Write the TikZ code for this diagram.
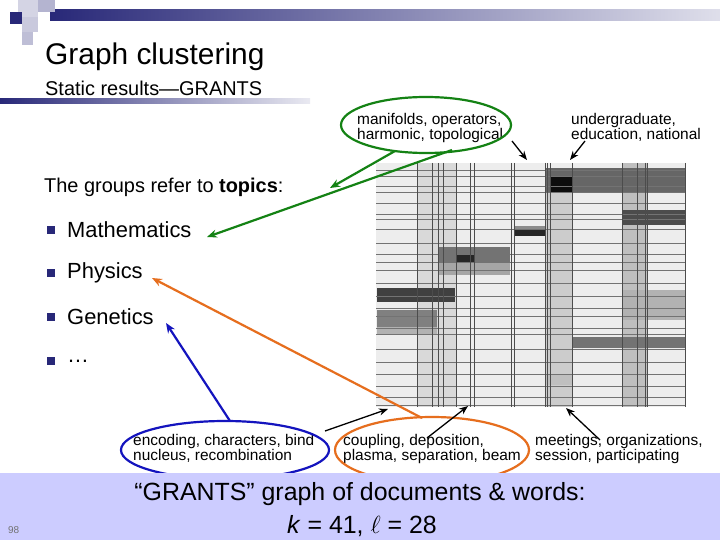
\documentclass[tikz,border=0pt]{standalone}
\usepackage{fontspec}
\setmainfont{Liberation Sans}
\usetikzlibrary{arrows.meta}
\definecolor{navy}{RGB}{40,40,120}
\definecolor{band}{RGB}{204,204,255}
\definecolor{gr}{RGB}{20,130,20}
\definecolor{org}{RGB}{230,110,30}
\definecolor{bl}{RGB}{20,20,190}
\tikzset{
 lbl/.style={anchor=north west,align=left,inner sep=0pt,font=\fontsize{15.5}{13.5}\selectfont},
 bul/.style={anchor=west,inner sep=0pt,font=\fontsize{22}{24}\selectfont},
 sq/.style={fill=navy,minimum size=8bp,inner sep=0pt},
 blk/.style={-{Stealth[length=9bp,width=7bp]},line width=1.3bp},
 col/.style={-{Stealth[length=10bp,width=8bp]},line width=2.2bp},
}
\begin{document}
\begin{tikzpicture}[x=1bp,y=-1bp]
\useasboundingbox (0,0) rectangle (720,540);
\fill[white] (0,0) rectangle (720,540);
% header decoration
\shade[left color=navy,right color=navy!15] (50,10) rectangle (720,21);
\shade[left color=navy,right color=navy!10] (0,99) rectangle (310,104);
\fill[navy!20] (18,0) rectangle (38,17);
\fill[navy!35] (38,0) rectangle (55,12);
\fill[navy] (10,12) rectangle (22,24);
\fill[navy!25] (22,17) rectangle (38,32);
\fill[navy!30] (22,32) rectangle (33,45);
\node[anchor=base west,inner sep=0pt,font=\fontsize{30}{32}\selectfont] (title) at (45,65) {Graph clustering};
\node[anchor=base west,inner sep=0pt,font=\fontsize{20}{22}\selectfont] (sub) at (45,96) {Static results—GRANTS};
% matrix
\fill[black!7] (376,163) rectangle (685,407);
\fill[black!15] (417,163) rectangle (456,407);
\fill[black!20] (546,193) rectangle (573,407);
\fill[black!25] (622,163) rectangle (647,407);
\fill[black!60] (546,168) rectangle (685,193);
\fill[black!95] (550,177) rectangle (573,193);
\fill[black!70] (622,210) rectangle (685,225);
\fill[black!85] (514,230) rectangle (545,236);
\fill[black!45] (514,226) rectangle (545,230);
\fill[black!55] (438,247) rectangle (510,263);
\fill[black!85] (456,255) rectangle (474,263);
\fill[black!35] (438,263) rectangle (510,275);
\fill[black!75] (377,288) rectangle (455,302);
\fill[black!50] (377,310) rectangle (437,327);
\fill[black!30] (377,327) rectangle (437,335);
\fill[black!55] (573,337) rectangle (685,348);
\fill[black!30] (622,290) rectangle (685,320);
\fill[black!25] (546,375) rectangle (573,385);
\foreach \y in {170,176,186,192,203,214,219,229,243,254,262,270,283,296,308,316,328,334,349,362,374,386,397,405}
  \draw[black!55,line width=0.5bp] (376,\y) -- (685,\y);
\foreach \x in {417,432,438,443,456,470,474,511,514,545,547,550,572,622,637,645,647,685}
  \draw[black!70,line width=0.6bp] (\x,163) -- (\x,407);
% top labels
\node[lbl] (man) at (357,113) {manifolds, operators,\\harmonic, topological};
\node[lbl] (und) at (571,113) {undergraduate,\\education, national};
\draw[gr,line width=2.2bp] (426,125) ellipse (85 and 28);
\coordinate (mt) at (527,160);
\coordinate (ut) at (570,160);
\draw[blk] (512,141) -- (mt);
\draw[blk] (585,141) -- (ut);
% topics
\node[anchor=base west,inner sep=0pt,font=\fontsize{20}{22}\selectfont] (topics) at (44,193) {The groups refer to \textbf{topics}:};
\node[sq] (b1) at (51,230) {}; \node[bul] (math) at (67,230) {Mathematics};
\node[sq] (b2) at (51,273) {}; \node[bul] (phys) at (67,273) {Physics};
\node[sq] (b3) at (51,317) {}; \node[bul] (gen) at (67,317) {Genetics};
\node[sq] (b4) at (51,361) {}; \node[bul] (dots) at (67,361) {…};
\coordinate (ge1) at (452,150);
\coordinate (ge2) at (395,151);
\draw[gr,col] (ge2) -- (330,188);
\draw[gr,col] (ge1) -- (207,237);
% bottom labels
\node[lbl] (enc) at (133,434) {encoding, characters, bind\\nucleus, recombination};
\node[lbl] (cou) at (343,434) {coupling, deposition,\\plasma, separation, beam};
\node[lbl] (mee) at (535,434) {meetings, organizations,\\session, participating};
\draw[bl,line width=2.2bp] (225,450) ellipse (104 and 29);
\draw[org,line width=2.2bp] (432,450) ellipse (97 and 33);
\draw[bl,col] (230,421) -- (166,323);
\draw[org,col] (422,418) -- (152,278);
\draw[blk] (325,431) -- (388,409);
\draw[blk] (427,438) -- (468,406);
\draw[blk] (600,440) -- (566,408);
% band
\fill[band] (0,473) rectangle (720,540);
\node[anchor=base,inner sep=0pt,font=\fontsize{25}{27}\selectfont] (cap) at (360,500) {“GRANTS” graph of documents \& words:};
\node[anchor=base,inner sep=0pt,font=\fontsize{25}{27}\selectfont] (kl) at (362,533) {\textit{k} = 41, $\ell$ = 28};
\node[anchor=base west,inner sep=0pt,font=\fontsize{10}{12}\selectfont,text=black!55] (pg) at (8,533) {98};
\end{tikzpicture}
\end{document}
